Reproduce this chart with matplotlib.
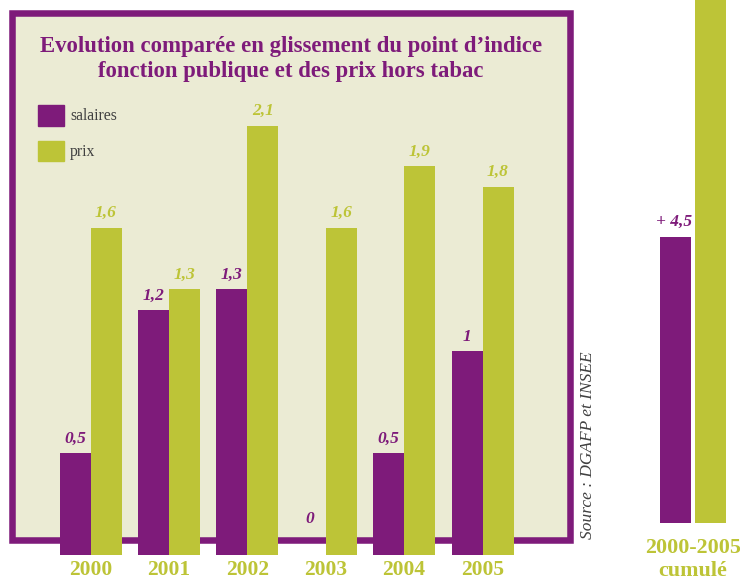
import matplotlib.pyplot as plt
from matplotlib.patches import Rectangle, Patch

# values
years = ['2000', '2001', '2002', '2003', '2004', '2005']
salaires = [0.5, 1.2, 1.3, 0.0, 0.5, 1.0]
prix = [1.6, 1.3, 2.1, 1.6, 1.9, 1.8]
cumul_salaires = 4.5
cumul_prix = 10.3   # bar runs off the top, no label shown
cumul_label = '2000-2005\ncumulé'

purple = '#7e1b7a'
green = '#bdc437'
beige = '#ebebd4'

plt.rcParams['font.family'] = ['Liberation Serif', 'DejaVu Serif']

W, H = 740, 581
fig = plt.figure(figsize=(W / 100, H / 100), dpi=100)

# framed beige box
box = Rectangle((12.25 / W, 1 - 539.75 / H), 557.5 / W, 526.5 / H,
                transform=fig.transFigure, facecolor=beige, edgecolor=purple,
                linewidth=4.7, zorder=-1)
fig.patches.append(box)

# main bars: baseline at y=555px, 204.5 px per unit, 78.4 px per group
ax = fig.add_axes([0, 26 / H, 600 / W, 555 / H])
ax.patch.set_visible(False)
ax.set_ylim(0, 555 / 204.5)
ax.set_xlim(-90.5 / 78.4, (600 - 90.5) / 78.4)
w = 31 / 78.4
x = list(range(len(years)))
ax.bar([i - w / 2 for i in x], salaires, width=w, color=purple, label='salaires')
ax.bar([i + w / 2 for i in x], prix, width=w, color=green, label='prix')

lab = dict(ha='center', va='center', fontsize=12.5, fontweight='bold', fontstyle='italic')
for i, v in enumerate(salaires):
    off = 26 if v == 0 else 10
    ax.annotate(f'{v:g}'.replace('.', ','), (i - w / 2, v), xytext=(0, off),
                textcoords='offset points', color=purple, **lab)
for i, v in enumerate(prix):
    ax.annotate(f'{v:g}'.replace('.', ','), (i + w / 2, v), xytext=(0, 10.5),
                textcoords='offset points', color=green, **lab)

ax.set_xticks(x, years)
ax.set_yticks([])
ax.tick_params(axis='x', length=0, pad=3.5, labelsize=15.5, labelcolor=green)
for t in ax.get_xticklabels():
    t.set_fontweight('bold')
for s in ax.spines.values():
    s.set_visible(False)

fig.text(291 / W, 1 - 59 / H,
         'Evolution comparée en glissement du point d\u2019indice\nfonction publique et des prix hors tabac',
         ha='center', va='center', fontsize=16.4, fontweight='bold', color=purple,
         linespacing=1.25)

leg = fig.legend(handles=[Patch(color=purple, label='salaires'), Patch(color=green, label='prix')],
                 loc='upper left', bbox_to_anchor=(38 / W, 1 - 105 / H), frameon=False,
                 fontsize=11.3, handlelength=1.65, handleheight=1.65, labelspacing=0.95,
                 handletextpad=0.4, borderpad=0, borderaxespad=0)
for t in leg.get_texts():
    t.set_color('#404040')

fig.text(588 / W, 1 - 445 / H, 'Source : DGAFP et INSEE', rotation=90,
         ha='center', va='center', fontsize=12.5, fontstyle='italic', color='#404040')

# cumulated bars: baseline at y=523px, 63.6 px per unit
ax2 = fig.add_axes([640 / W, 58 / H, 100 / W, 523 / H])
ax2.patch.set_visible(False)
ax2.set_ylim(0, 523 / 63.6)
ax2.set_xlim(-35.5 / 35, 64.5 / 35)
ax2.bar([0, 1], [cumul_salaires, cumul_prix], width=31 / 35, color=[purple, green])
ax2.annotate('+ ' + f'{cumul_salaires:g}'.replace('.', ','), (0, cumul_salaires),
             xytext=(-1, 10.5), textcoords='offset points', color=purple, **lab)
ax2.set_xticks([0.5], [cumul_label])
ax2.set_yticks([])
ax2.tick_params(axis='x', length=0, pad=11, labelsize=15.8, labelcolor=green)
for t in ax2.get_xticklabels():
    t.set_fontweight('bold')
    t.set_linespacing(1.2)
for s in ax2.spines.values():
    s.set_visible(False)

fig.savefig('out.png', dpi=100)
